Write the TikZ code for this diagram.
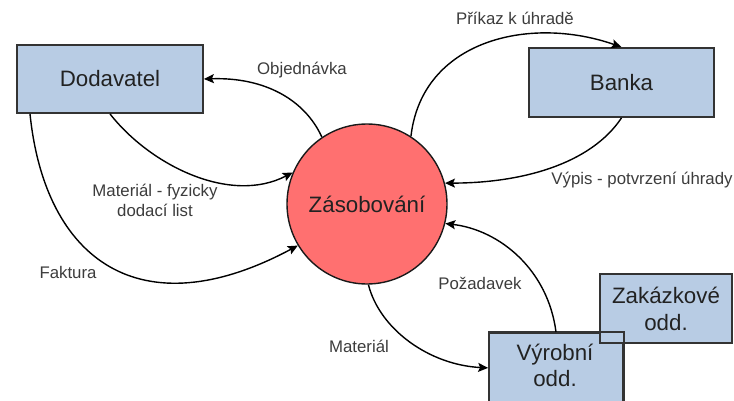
\documentclass[tikz,border=0pt]{standalone}
\usepackage{fontspec}
\setmainfont{Liberation Sans}
\usetikzlibrary{arrows.meta}
\definecolor{boxfill}{HTML}{B8CCE4}
\definecolor{boxline}{HTML}{333333}
\definecolor{circfill}{HTML}{FF7070}
\definecolor{labeltext}{HTML}{3C3C3C}
\definecolor{maintext}{HTML}{222222}
\begin{document}
\begin{tikzpicture}[x=1pt,y=-1pt,
  entity/.style={draw=boxline, line width=1.8pt, fill=boxfill, text=maintext,
    font=\fontsize{22.3}{27}\selectfont, align=center, inner sep=0pt},
  entitytext/.style={text=maintext, font=\fontsize{22.3}{26}\selectfont, align=center, inner sep=0pt},
  process/.style={circle, draw=black!90, line width=1.4pt, fill=circfill,
    minimum size=160pt, text=maintext, font=\fontsize{22.3}{27}\selectfont, inner sep=0pt},
  flow/.style={draw=black, line width=1.4pt, -{Stealth[length=10pt,width=9pt,inset=2pt]}},
  flowlabel/.style={text=labeltext, font=\fontsize{16.8}{20}\selectfont, align=center, inner sep=0pt}]
\useasboundingbox (0,0) rectangle (734,400);

% entities and the central process
\node[entity, minimum width=186pt, minimum height=68pt] (dod) at (110,79) {Dodavatel};
\node[entity, minimum width=185pt, minimum height=69pt] (bank) at (621.5,82.5) {Banka};
\node[process] (zas) at (367,204) {Zásobování};
\node[entity, minimum width=134pt, minimum height=130pt, anchor=north] (vyr) at (556,332) {};
\node[entity, minimum width=132pt, minimum height=69pt] (zak) at (666,308.5) {Zakázkové\\odd.};
% both outlines stay visible where the two boxes overlap
\draw[draw=boxline, line width=1.8pt] (vyr.north west) -- (vyr.north east) -- (vyr.south east);
\node[entitytext] (vyrtext) at (555,365) {Výrobní\\odd.};

% data flows
\draw[flow] (zas.124) .. controls (305,100) and (265,77) .. (dod.east);
\draw[flow] (dod.south) .. controls (150,165) and (230,205) .. (zas.157);
\draw[flow] ([xshift=-80pt]dod.south) .. controls (45,260) and (140,330) .. (zas.211);
\draw[flow] (zas.57) .. controls (422,40) and (530,15) .. (bank.north);
\draw[flow] (bank.south) .. controls (590,165) and (520,183) .. (zas.15);
\draw[flow] (vyr.north) .. controls (548,270) and (500,230) .. (zas.-14);
\draw[flow] (zas.-89) .. controls (380,330) and (430,365) .. ([yshift=30pt]vyr.west);

% flow labels
\node[flowlabel] (lobj) at (302,70) {Objednávka};
\node[flowlabel] (lmat1) at (155,200) {Materiál - fyzicky\\dodací list};
\node[flowlabel] (lfak) at (68,272) {Faktura};
\node[flowlabel] (lpri) at (515,18) {Příkaz k úhradě};
\node[flowlabel] (lvyp) at (642,180) {Výpis - potvrzení úhrady};
\node[flowlabel] (lpoz) at (480,283) {Požadavek};
\node[flowlabel] (lmat2) at (359,346) {Materiál};
\end{tikzpicture}
\end{document}
